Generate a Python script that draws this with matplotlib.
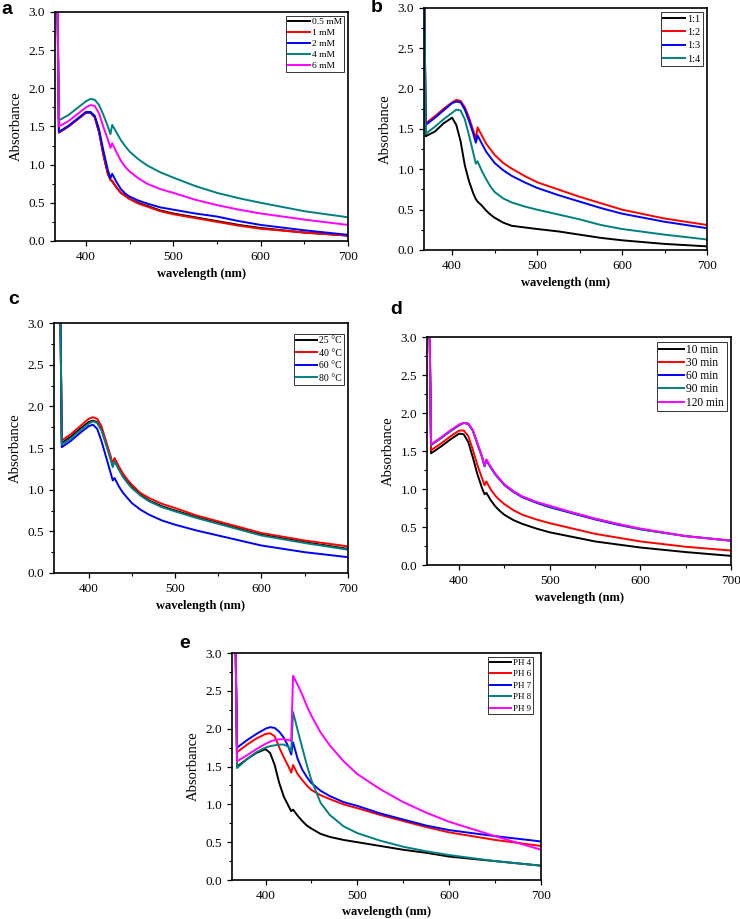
import matplotlib
matplotlib.use("Agg")
import matplotlib.pyplot as plt
from matplotlib.ticker import MultipleLocator, FormatStrFormatter

plt.rcParams['font.family'] = ['Liberation Serif', 'DejaVu Serif']

# common wavelength grid (nm)
wl = [367, 369, 380, 390, 400, 405, 410, 415, 420, 425, 428, 430, 435,
      440, 445, 450, 460, 470, 485, 500, 525, 550, 575, 600, 650, 700]

# panel a: concentration
a_labels = ['0.5 mM', '1 mM', '2 mM', '4 mM', '6 mM']
a_05 = [3.5, 1.42, 1.50, 1.59, 1.68, 1.68, 1.62, 1.42, 1.12, 0.88, 0.80, 0.78, 0.70,
        0.63, 0.59, 0.55, 0.50, 0.46, 0.40, 0.36, 0.31, 0.26, 0.21, 0.17, 0.11, 0.07]
a_1 = [3.5, 1.42, 1.50, 1.59, 1.68, 1.69, 1.63, 1.43, 1.13, 0.88, 0.80, 0.79, 0.70,
       0.63, 0.59, 0.55, 0.49, 0.45, 0.39, 0.35, 0.30, 0.25, 0.20, 0.16, 0.11, 0.07]
a_2 = [3.5, 1.43, 1.51, 1.60, 1.69, 1.69, 1.64, 1.46, 1.18, 0.93, 0.82, 0.88, 0.77,
       0.68, 0.62, 0.58, 0.53, 0.49, 0.44, 0.41, 0.36, 0.32, 0.26, 0.21, 0.14, 0.08]
a_4 = [3.5, 1.58, 1.65, 1.74, 1.83, 1.86, 1.85, 1.78, 1.65, 1.50, 1.40, 1.52, 1.42,
       1.32, 1.24, 1.17, 1.07, 0.99, 0.90, 0.83, 0.72, 0.63, 0.56, 0.50, 0.39, 0.31]
a_6 = [3.5, 1.50, 1.57, 1.66, 1.75, 1.78, 1.77, 1.67, 1.49, 1.33, 1.22, 1.28, 1.16,
       1.05, 0.97, 0.91, 0.82, 0.75, 0.68, 0.63, 0.54, 0.47, 0.41, 0.36, 0.28, 0.21]

# panel b: ratio
b_labels = ['1:1', '1:2', '1:3', '1:4']
b_11 = [3.5, 1.41, 1.47, 1.57, 1.64, 1.55, 1.35, 1.05, 0.85, 0.70, 0.63, 0.60, 0.55,
        0.49, 0.44, 0.40, 0.34, 0.30, 0.28, 0.26, 0.23, 0.19, 0.15, 0.12, 0.075, 0.045]
b_12 = [3.5, 1.57, 1.66, 1.75, 1.83, 1.86, 1.85, 1.77, 1.64, 1.48, 1.38, 1.52, 1.42,
        1.32, 1.25, 1.18, 1.08, 1.01, 0.92, 0.84, 0.75, 0.66, 0.58, 0.50, 0.39, 0.31]
b_13 = [3.5, 1.55, 1.64, 1.73, 1.82, 1.84, 1.83, 1.74, 1.60, 1.44, 1.33, 1.42, 1.32,
        1.22, 1.15, 1.08, 0.99, 0.92, 0.84, 0.77, 0.68, 0.60, 0.52, 0.45, 0.35, 0.27]
b_14 = [3.5, 1.44, 1.53, 1.62, 1.70, 1.74, 1.73, 1.62, 1.42, 1.20, 1.07, 1.10, 0.98,
        0.88, 0.79, 0.72, 0.64, 0.59, 0.54, 0.50, 0.44, 0.38, 0.31, 0.26, 0.19, 0.13]

# panel c: temperature
c_labels = ['25 °C', '40 °C', '60 °C', '80 °C']
c_25 = [3.5, 1.56, 1.64, 1.73, 1.81, 1.83, 1.81, 1.72, 1.56, 1.40, 1.29, 1.36, 1.26,
        1.17, 1.10, 1.04, 0.94, 0.87, 0.80, 0.75, 0.67, 0.60, 0.53, 0.46, 0.37, 0.29]
c_40 = [3.5, 1.59, 1.67, 1.76, 1.85, 1.87, 1.85, 1.76, 1.59, 1.42, 1.31, 1.38, 1.28,
        1.19, 1.12, 1.06, 0.96, 0.90, 0.83, 0.78, 0.69, 0.62, 0.55, 0.48, 0.39, 0.32]
c_60 = [3.5, 1.51, 1.59, 1.68, 1.76, 1.78, 1.73, 1.58, 1.40, 1.22, 1.11, 1.14, 1.04,
        0.96, 0.90, 0.84, 0.76, 0.70, 0.63, 0.58, 0.51, 0.45, 0.39, 0.33, 0.25, 0.19]
c_80 = [3.5, 1.54, 1.62, 1.71, 1.79, 1.82, 1.80, 1.71, 1.55, 1.38, 1.27, 1.34, 1.24,
        1.15, 1.08, 1.02, 0.93, 0.86, 0.79, 0.74, 0.66, 0.59, 0.52, 0.45, 0.36, 0.28]

# panel d: time
d_labels = ['10 min', '30 min', '60 min', '90 min', '120 min']
d_10 = [3.5, 1.47, 1.56, 1.65, 1.73, 1.72, 1.62, 1.42, 1.20, 1.02, 0.93, 0.95, 0.85,
        0.77, 0.71, 0.66, 0.59, 0.54, 0.48, 0.43, 0.37, 0.31, 0.27, 0.23, 0.17, 0.12]
d_30 = [3.5, 1.51, 1.60, 1.69, 1.77, 1.77, 1.70, 1.52, 1.32, 1.15, 1.05, 1.10, 0.99,
        0.91, 0.85, 0.80, 0.72, 0.66, 0.60, 0.55, 0.48, 0.41, 0.36, 0.31, 0.24, 0.19]
d_60 = [3.5, 1.58, 1.67, 1.76, 1.84, 1.87, 1.86, 1.77, 1.60, 1.43, 1.30, 1.38, 1.28,
        1.19, 1.12, 1.05, 0.96, 0.89, 0.82, 0.76, 0.68, 0.60, 0.53, 0.47, 0.38, 0.32]
d_90 = [3.5, 1.58, 1.67, 1.76, 1.84, 1.87, 1.86, 1.77, 1.60, 1.43, 1.30, 1.38, 1.28,
        1.19, 1.12, 1.06, 0.97, 0.90, 0.83, 0.77, 0.69, 0.61, 0.54, 0.47, 0.38, 0.32]
d_120 = [3.5, 1.59, 1.68, 1.77, 1.85, 1.87, 1.86, 1.78, 1.61, 1.44, 1.31, 1.39, 1.29,
         1.20, 1.13, 1.06, 0.97, 0.90, 0.83, 0.78, 0.69, 0.61, 0.54, 0.48, 0.38, 0.32]

# panel e: pH
e_labels = ['PH 4', 'PH 6', 'PH 7', 'PH 8', 'PH 9']
e_4 = [3.5, 1.50, 1.60, 1.68, 1.73, 1.68, 1.52, 1.28, 1.10, 0.98, 0.91, 0.93, 0.85,
       0.78, 0.72, 0.68, 0.61, 0.57, 0.53, 0.50, 0.45, 0.40, 0.36, 0.31, 0.25, 0.19]
e_6 = [3.5, 1.69, 1.79, 1.87, 1.93, 1.94, 1.90, 1.75, 1.62, 1.50, 1.42, 1.52, 1.40,
       1.32, 1.25, 1.19, 1.12, 1.07, 1.00, 0.95, 0.86, 0.78, 0.70, 0.63, 0.53, 0.45]
e_7 = [3.5, 1.75, 1.85, 1.93, 2.00, 2.02, 2.01, 1.96, 1.88, 1.76, 1.66, 1.82, 1.60,
       1.46, 1.36, 1.28, 1.18, 1.11, 1.03, 0.98, 0.88, 0.80, 0.72, 0.66, 0.58, 0.51]
e_8 = [3.5, 1.48, 1.60, 1.69, 1.75, 1.77, 1.78, 1.79, 1.79, 1.76, 1.70, 2.22, 1.98,
       1.75, 1.52, 1.32, 1.02, 0.86, 0.71, 0.62, 0.52, 0.44, 0.38, 0.33, 0.25, 0.19]
e_9 = [3.5, 1.57, 1.65, 1.73, 1.80, 1.83, 1.85, 1.86, 1.86, 1.85, 1.84, 2.70, 2.58,
       2.45, 2.30, 2.17, 1.95, 1.78, 1.57, 1.40, 1.20, 1.03, 0.89, 0.77, 0.58, 0.40]

black, red, blue, teal, pink = '#000000', '#ff0000', '#0000ff', '#008080', '#ff00ff'

W, H = 740, 919
fig = plt.figure(figsize=(7.4, 9.19), dpi=100)


def panel(rect, series, labels, colors, xmin, letter, lxy, leg_kw, xpad=4):
    ax = fig.add_axes(rect)
    for ys, lab, col in zip(series, labels, colors):
        ax.plot(wl, ys, color=col, lw=1.4, label=lab)
    ax.set_xlim(xmin, 700)
    ax.set_ylim(0, 3.0)
    ax.set_xticks([400, 500, 600, 700])
    ax.xaxis.set_minor_locator(MultipleLocator(50))
    ax.yaxis.set_major_locator(MultipleLocator(0.5))
    ax.yaxis.set_minor_locator(MultipleLocator(0.25))
    ax.yaxis.set_major_formatter(FormatStrFormatter('%.1f'))
    ax.tick_params(which='both', direction='out', top=False, right=False, labelsize=9.5)
    ax.tick_params(which='major', length=3.5, width=0.9)
    ax.tick_params(which='minor', length=2, width=0.8)
    for s in ax.spines.values():
        s.set_linewidth(1.2)
    ax.set_ylabel('Absorbance', fontsize=10.5, labelpad=4)
    ax.set_xlabel('wavelength (nm)', fontsize=9, fontweight='bold', labelpad=xpad)
    kw = dict(loc='upper right', fancybox=False, edgecolor='black',
              borderpad=0.2, handletextpad=0.25, borderaxespad=0.4)
    kw.update(leg_kw)
    leg = ax.legend(**kw)
    leg.get_frame().set_linewidth(0.7)
    fig.text(lxy[0] / W, 1 - lxy[1] / H, letter, fontsize=14, fontweight='bold',
             family='Liberation Sans', ha='center', va='center')
    return ax


panel([0.0743, 0.7378, 0.396, 0.2492], [a_05, a_1, a_2, a_4, a_6], a_labels,
      [black, red, blue, teal, pink], 364.5, 'a', (7, 10),
      dict(fontsize=6.8, handlelength=2.3, labelspacing=0.25))
panel([0.573, 0.728, 0.3824, 0.2633], [b_11, b_12, b_13, b_14], b_labels,
      [black, red, blue, teal], 367, 'b', (377, 8),
      dict(fontsize=7.5, handlelength=2.1, labelspacing=0.4))
panel([0.073, 0.3765, 0.397, 0.272], [c_25, c_40, c_60, c_80], c_labels,
      [black, red, blue, teal], 360, 'c', (14, 300),
      dict(fontsize=7, handlelength=2.1, labelspacing=0.35, bbox_to_anchor=(1.0, 0.97)))
panel([0.577, 0.3852, 0.411, 0.248], [d_10, d_30, d_60, d_90, d_120], d_labels,
      [black, red, blue, teal, pink], 364.5, 'd', (396, 310),
      dict(fontsize=8.3, handlelength=2.1, labelspacing=0.1))
panel([0.3135, 0.0424, 0.4176, 0.247], [e_4, e_6, e_7, e_8, e_9], e_labels,
      [black, red, blue, teal, pink], 363.5, 'e', (185, 644),
      dict(fontsize=6.5, handlelength=2.3, labelspacing=0.35, bbox_to_anchor=(0.985, 1.0)),
      xpad=3)

fig.savefig('out.png', dpi=100)
